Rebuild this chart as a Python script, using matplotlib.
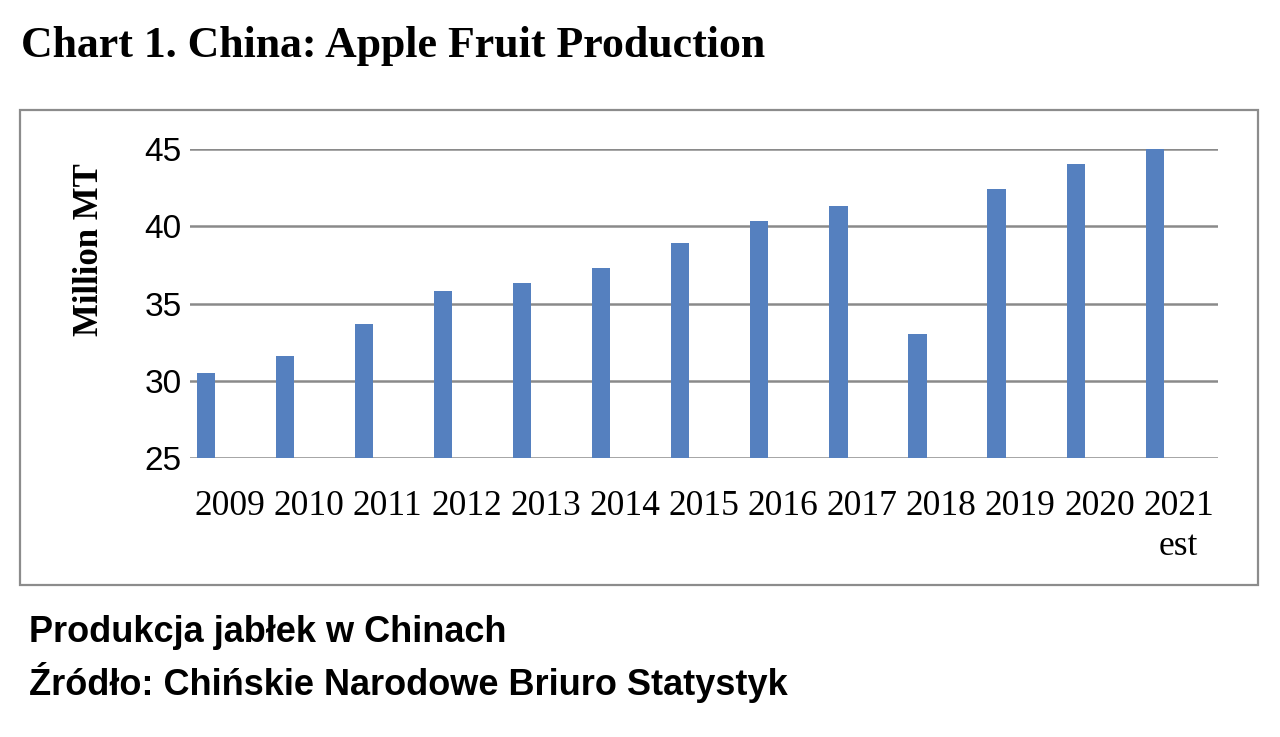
import matplotlib.pyplot as plt
from matplotlib import font_manager
from matplotlib.patches import Rectangle

# data
years = ['2009', '2010', '2011', '2012', '2013', '2014', '2015',
         '2016', '2017', '2018', '2019', '2020', '2021\nest']
production = [30.5, 31.6, 33.7, 35.8, 36.3, 37.3, 38.9,
              40.35, 41.3, 33.0, 42.4, 44.0, 45.0]
y_ticks = [25, 30, 35, 40, 45]

title = 'Chart 1. China: Apple Fruit Production'
ylabel = 'Million MT'
caption_1 = 'Produkcja jabłek w Chinach'
caption_2 = 'Źródło: Chińskie Narodowe Briuro Statystyk'

# narrow bold sans for the caption if available
names = {f.name for f in font_manager.fontManager.ttflist}
if 'Liberation Sans Narrow' in names:
    cap_family, cap_size = 'Liberation Sans Narrow', 31
else:
    cap_family, cap_size = 'Liberation Sans', 26

W, H = 1280, 737
fig = plt.figure(figsize=(W / 100, H / 100), dpi=100)
fig.patch.set_facecolor('white')

ax = fig.add_axes([190 / W, 1 - 458 / H, (1218 - 190) / W, (458 - 149) / H])

x = list(range(len(years)))
bar_x = [i - 0.30 for i in x]
ax.bar(bar_x, production, width=0.23, color='#5580bf', zorder=3)

ax.set_xlim(-0.5, len(years) - 0.5)
ax.set_ylim(25, 45)
ax.set_yticks(y_ticks)
ax.set_yticklabels([str(v) for v in y_ticks], fontsize=24,
                   fontfamily='Liberation Sans')
ax.set_xticks(x)
ax.set_xticklabels(years, fontsize=25.5, fontfamily='Liberation Serif',
                   linespacing=1.3, va='top')
ax.tick_params(axis='both', length=0)
ax.tick_params(axis='y', pad=6)
ax.tick_params(axis='x', pad=23)

ax.grid(axis='y', color='#8a8a8a', linewidth=1.8, zorder=0)
for s in ax.spines.values():
    s.set_visible(False)

# outer chart frame
fig.patches.append(Rectangle((20 / W, 1 - 585 / H), (1258 - 20) / W, (585 - 110) / H,
                             transform=fig.transFigure, fill=False,
                             edgecolor='#8c8c8c', linewidth=1.6))

fig.text(89 / W, 1 - 250 / H, ylabel, rotation=90, ha='center', va='center',
         fontsize=25, fontweight='bold', fontfamily='Liberation Serif')

fig.text(21 / W, 1 - 57 / H, title, ha='left', va='baseline',
         fontsize=31.6, fontweight='bold', fontfamily='Liberation Serif')

fig.text(29 / W, 1 - 642 / H, caption_1, ha='left', va='baseline',
         fontsize=cap_size, fontweight='bold', fontfamily=cap_family)
fig.text(29 / W, 1 - 695 / H, caption_2, ha='left', va='baseline',
         fontsize=cap_size, fontweight='bold', fontfamily=cap_family)

fig.savefig('out.png', dpi=100)
